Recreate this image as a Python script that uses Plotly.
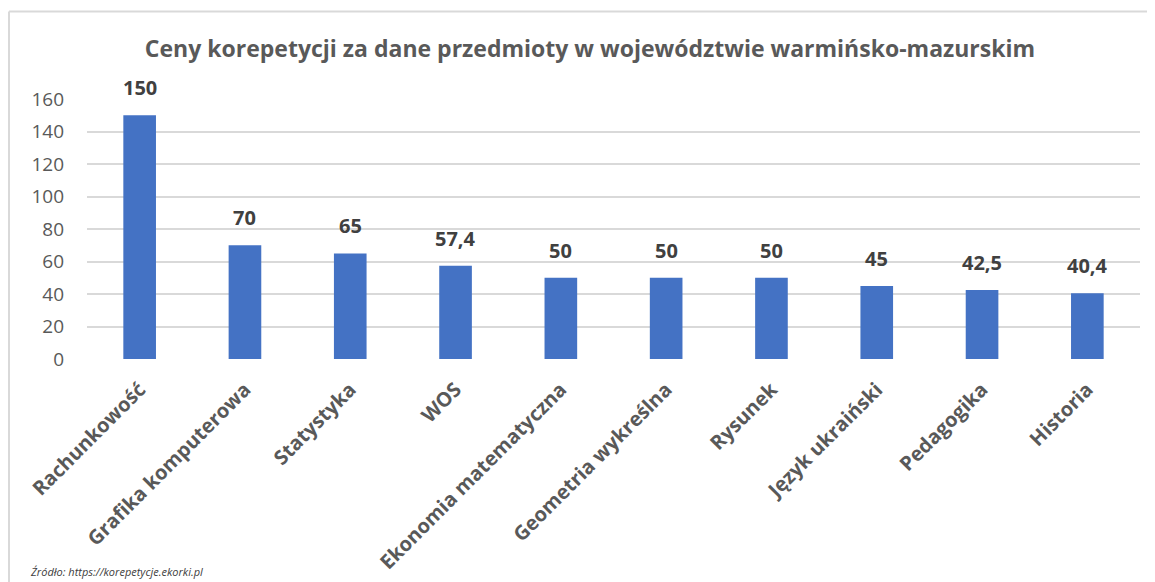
import plotly.graph_objects as go

categories = ["Rachunkowość", "Grafika komputerowa", "Statystyka", "WOS",
              "Ekonomia matematyczna", "Geometria wykreślna", "Rysunek",
              "Język ukraiński", "Pedagogika", "Historia"]
values = [150, 70, 65, 57.4, 50, 50, 50, 45, 42.5, 40.4]
title_text = "Ceny korepetycji za dane przedmioty w województwie warmińsko-mazurskim"
source_text = "Źródło: https://korepetycje.ekorki.pl"
y_ticks = [0, 20, 40, 60, 80, 100, 120, 140, 160]

# page body has an 8px margin, so the figure is a bit smaller than the window
W, H = 1147, 574
L, R, T, B = 79, 15, 91, 223
pw, ph = W - L - R, H - T - B

labels = [("%g" % v).replace(".", ",") for v in values]

fig = go.Figure(go.Bar(
    x=categories, y=values,
    marker=dict(color="#4472c4", line=dict(width=0)),
    cliponaxis=False, width=0.31, hoverinfo="x+y",
))

def px_x(p):
    return (p - L) / pw

def px_y(p):
    return 1 - (p - T) / ph

annotations = [dict(x=c, y=v, xref="x", yref="y", text="<b>%s</b>" % t,
                    showarrow=False, yanchor="bottom", yshift=12,
                    font=dict(family="Open Sans", size=20, color="#404040"))
               for c, v, t in zip(categories, values, labels)]
annotations.append(dict(text="<i>" + source_text + "</i>", xref="paper", yref="paper",
                        x=px_x(20), y=px_y(573), xanchor="left", yanchor="bottom",
                        showarrow=False,
                        font=dict(family="Open Sans", size=11, color="#404040")))

fig.update_layout(
    width=W, height=H,
    margin=dict(l=L, r=R, t=T, b=B, autoexpand=False),
    paper_bgcolor="white", plot_bgcolor="white",
    showlegend=False,
    title=dict(text=title_text, xref="container", x=582 / W, xanchor="center",
               y=1 - 41 / H, yanchor="middle",
               font=dict(family="Open Sans", size=23, color="#595959", weight="bold")),
    xaxis=dict(tickangle=-45, showgrid=False, showline=False, ticks="",
               ticklabelstandoff=14, ticklabelshift=0,
               tickfont=dict(family="Open Sans", size=20, color="#595959", weight="bold")),
    yaxis=dict(range=[0, 160], tickvals=y_ticks, showgrid=True, gridcolor="#d9d9d9",
               gridwidth=1.5, zeroline=False, showline=False, ticks="",
               ticklabelstandoff=22,
               tickfont=dict(family="Open Sans", size=19, color="#595959")),
    shapes=[
        dict(type="line", xref="paper", yref="paper", x0=px_x(1), x1=px_x(1),
             y0=px_y(3.5), y1=px_y(H + 5), line=dict(color="#d9d9d9", width=2)),
        dict(type="line", xref="paper", yref="paper", x0=px_x(1), x1=px_x(W + 5),
             y0=px_y(3.5), y1=px_y(3.5), line=dict(color="#d9d9d9", width=2)),
    ],
    annotations=annotations,
)

fig.write_html("out.html")
